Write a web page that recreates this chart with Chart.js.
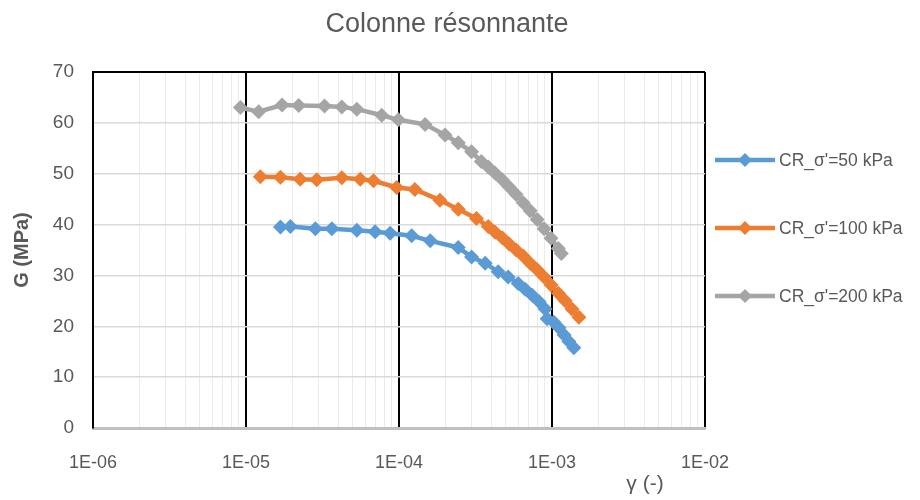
<!DOCTYPE html>
<html lang="fr">
<head>
  <meta charset="UTF-8" />
  <title>Colonne résonnante</title>
  <script src="https://cdn.jsdelivr.net/npm/chart.js"></script>
  <style>
    body { margin: 0; background: #fff; }
    #wrap { width: 920px; height: 500px; }
  </style>
</head>
<body>
  <div id="wrap"><canvas id="chart"></canvas></div>
  <script>
    // données
    const chartTitle = 'Colonne résonnante';
    const seriesNames = ["CR_σ'=50 kPa", "CR_σ'=100 kPa", "CR_σ'=200 kPa"];
    const seriesColors = ['#5b9bd5', '#ed7d31', '#a5a5a5'];

    const gamma50 = [1.68e-5, 1.95e-5, 2.84e-5, 3.64e-5, 5.30e-5, 6.98e-5, 8.75e-5, 1.21e-4, 1.60e-4,
      2.44e-4, 2.98e-4, 3.66e-4, 4.45e-4, 5.17e-4, 6.01e-4, 6.68e-4, 7.42e-4, 8.24e-4, 9.02e-4,
      9.29e-4, 1.03e-3, 1.11e-3, 1.20e-3, 1.29e-3, 1.39e-3];
    const g50 = [39.5, 39.6, 39.2, 39.2, 38.9, 38.6, 38.3, 37.8, 36.8,
      35.5, 33.6, 32.4, 30.7, 29.7, 28.4, 27.3, 26.1, 24.8, 23.4,
      21.5, 20.8, 19.7, 18.3, 17.0, 15.8];

    const gamma100 = [1.24e-5, 1.68e-5, 2.26e-5, 2.90e-5, 4.23e-5, 5.58e-5, 6.81e-5, 9.66e-5, 1.27e-4,
      1.85e-4, 2.44e-4, 3.21e-4, 3.83e-4, 4.25e-4, 4.73e-4, 5.25e-4, 5.83e-4, 6.48e-4, 7.20e-4,
      8.0e-4, 8.88e-4, 9.86e-4, 1.10e-3, 1.22e-3, 1.35e-3, 1.50e-3];
    const g100 = [49.4, 49.3, 48.9, 48.8, 49.2, 48.9, 48.6, 47.3, 46.9,
      44.8, 43.0, 41.2, 39.6, 38.5, 37.4, 36.2, 35.0, 33.8, 32.4,
      31.1, 29.7, 28.1, 26.5, 25.0, 23.4, 21.8];

    const gamma200 = [9.2e-6, 1.21e-5, 1.72e-5, 2.21e-5, 3.26e-5, 4.23e-5, 5.30e-5, 7.71e-5, 9.91e-5,
      1.48e-4, 2.0e-4, 2.44e-4, 2.98e-4, 3.45e-4, 3.83e-4, 4.25e-4, 4.73e-4, 5.25e-4, 5.83e-4,
      6.48e-4, 7.20e-4, 8.0e-4, 8.88e-4, 9.86e-4, 1.10e-3, 1.15e-3];
    const g200 = [63.0, 62.2, 63.5, 63.4, 63.3, 63.1, 62.7, 61.5, 60.6,
      59.7, 57.6, 56.1, 54.3, 52.4, 51.3, 50.1, 48.8, 47.4, 45.9,
      44.3, 42.7, 41.0, 39.2, 37.3, 35.3, 34.3];

    const xDecades = [1e-6, 1e-5, 1e-4, 1e-3, 1e-2];
    const xTickLabels = ['1E-06', '1E-05', '1E-04', '1E-03', '1E-02'];
    const xTitle = 'γ (-)';
    const yTitle = 'G (MPa)';

    const FONT = "'Liberation Sans', Arial, sans-serif";
    const TXT = '#595959';

    const toPoints = (xs, ys) => xs.map((x, i) => ({ x: x, y: ys[i] }));
    const allX = [gamma50, gamma100, gamma200];
    const allY = [g50, g100, g200];

    const datasets = seriesNames.map((name, i) => ({
      label: name,
      data: toPoints(allX[i], allY[i]),
      borderColor: seriesColors[i],
      backgroundColor: seriesColors[i],
      borderWidth: 4.5,
      pointStyle: 'rectRot',
      pointRadius: 7.5,
      pointBorderWidth: 0,
      tension: 0
    }));

    // titre, titre de l'axe x et légende dessinés à la main
    const extras = {
      id: 'extras',
      afterDraw(chart) {
        const c = chart.ctx;
        c.save();
        c.fillStyle = TXT;
        c.textBaseline = 'middle';
        c.textAlign = 'center';
        c.font = '27px ' + FONT;
        c.fillText(chartTitle, 447, 25);
        c.font = '21px ' + FONT;
        c.fillText(xTitle, 645, 484);

        c.textAlign = 'left';
        c.font = '17.5px ' + FONT;
        seriesNames.forEach((name, i) => {
          const y = 160 + i * 68;
          c.strokeStyle = seriesColors[i];
          c.lineWidth = 4.5;
          c.beginPath();
          c.moveTo(715, y);
          c.lineTo(775, y);
          c.stroke();
          c.fillStyle = seriesColors[i];
          c.beginPath();
          c.moveTo(745, y - 7);
          c.lineTo(752, y);
          c.lineTo(745, y + 7);
          c.lineTo(738, y);
          c.closePath();
          c.fill();
          c.fillStyle = TXT;
          c.fillText(name, 779, y + 1);
        });
        c.restore();
      }
    };

    const isDecade = v => xDecades.findIndex(d => Math.abs(v / d - 1) < 1e-6);

    new Chart(document.getElementById('chart'), {
      type: 'line',
      data: { datasets: datasets },
      options: {
        responsive: true,
        maintainAspectRatio: false,
        animation: false,
        layout: { padding: { top: 72, right: 215, left: 0, bottom: 0 } },
        plugins: {
          legend: { display: false },
          title: { display: false },
          tooltip: { enabled: false }
        },
        scales: {
          x: {
            type: 'logarithmic',
            min: xDecades[0],
            max: xDecades[xDecades.length - 1],
            afterBuildTicks(scale) {
              const ticks = [];
              xDecades.forEach((d, i) => {
                if (i === xDecades.length - 1) {
                  ticks.push({ value: d, major: true });
                  return;
                }
                for (let m = 1; m <= 9; m++) ticks.push({ value: m * d, major: m === 1 });
              });
              scale.ticks = ticks;
            },
            afterFit(scale) { scale.height = 72; },
            ticks: {
              autoSkip: false,
              maxRotation: 0,
              padding: 24,
              color: TXT,
              font: { family: FONT, size: 18 },
              callback: v => {
                const k = isDecade(v);
                return k >= 0 ? xTickLabels[k] : '';
              }
            },
            grid: {
              drawTicks: false,
              color: ctx => (ctx.tick && ctx.tick.major) ? '#000000' : '#ebebeb',
              lineWidth: ctx => (ctx.tick && ctx.tick.major) ? 2 : 1
            },
            border: { color: '#bfbfbf', width: 3 }
          },
          y: {
            min: 0,
            max: 70,
            afterFit(scale) { scale.width = 93; },
            ticks: {
              stepSize: 10,
              padding: 19,
              color: TXT,
              font: { family: FONT, size: 19 }
            },
            grid: {
              drawTicks: false,
              color: ctx => ctx.tick && ctx.tick.value === 70 ? '#000000' : '#d9d9d9',
              lineWidth: ctx => ctx.tick && ctx.tick.value === 70 ? 2 : 1.5
            },
            border: { color: '#000000', width: 2 },
            title: {
              display: true,
              text: yTitle,
              color: TXT,
              padding: { top: 10, bottom: 0 },
              font: { family: FONT, size: 20, weight: 'bold' }
            }
          }
        }
      },
      plugins: [extras]
    });
  </script>
</body>
</html>
